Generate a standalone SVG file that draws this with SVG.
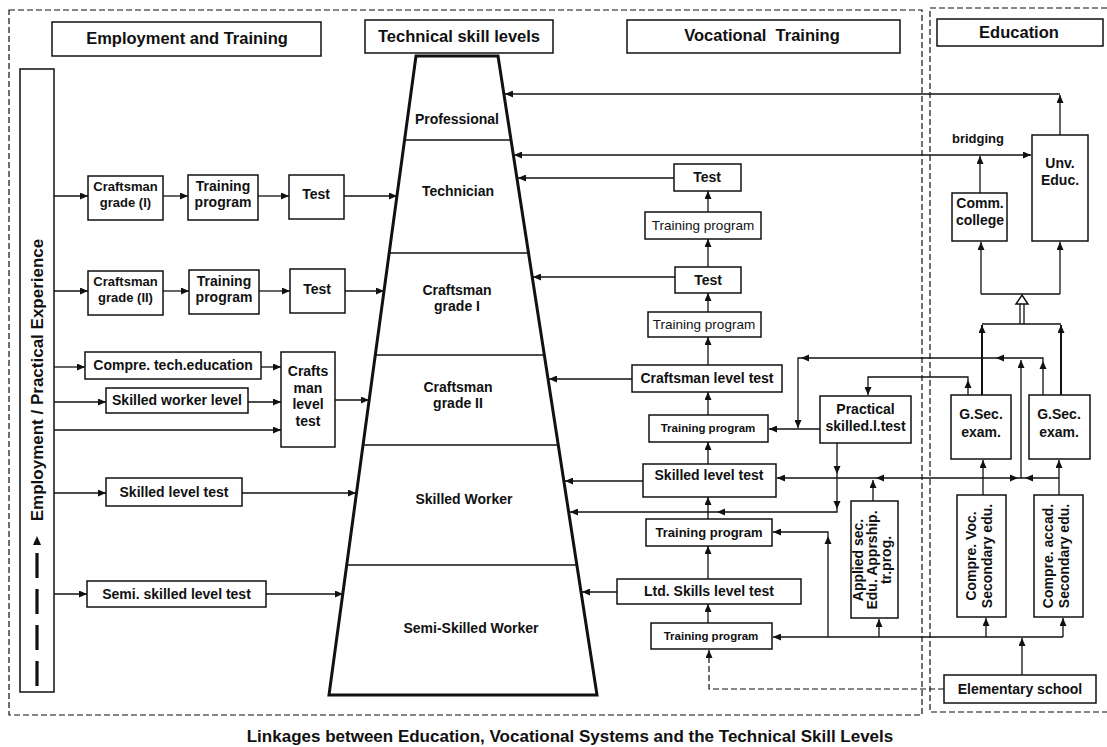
<svg xmlns="http://www.w3.org/2000/svg" xmlns:xlink="http://www.w3.org/1999/xlink" width="1107" height="747" viewBox="0 0 1107 747">
<style>
.bx{fill:#fff;stroke:#111;stroke-width:1.5}
.t{font-family:"Liberation Sans",Arial,sans-serif;font-weight:bold;font-size:14px;text-anchor:middle;fill:#111}
.h{font-size:16.5px}
.s{font-size:11.5px}
.n{font-weight:normal}
.c{stroke:#111;stroke-width:1.3;fill:none}
.k{stroke:#111;stroke-width:2;fill:none}
.d{stroke:#111;stroke-width:1.2;fill:none;stroke-dasharray:6 3}
.tz{fill:none;stroke:#111;stroke-width:3;stroke-linejoin:miter}
.dv{stroke:#111;stroke-width:1.6}
</style>
<defs>
<marker id="m" viewBox="0 0 8 7" refX="8" refY="3.5" markerWidth="8" markerHeight="7" markerUnits="userSpaceOnUse" orient="auto-start-reverse"><path d="M0,0 L8,3.5 L0,7 Z" fill="#111"/></marker>
<path id="ah" d="M0,0 L-8,-3.5 L-8,3.5 Z" fill="#111"/>
</defs>
<rect width="1107" height="747" fill="#fff"/>

<g id="frames">
<path class="d" d="M9,10 H922 V715 H9 Z"/>
<path class="d" d="M1107,8 H930 V712 H1107"/>
</g>

<g id="headers">
<rect class="bx" x="52" y="22" width="269" height="34"/>
<text class="t h" x="187" y="44">Employment and Training</text>
<rect class="bx" x="365" y="20" width="188" height="33"/>
<text class="t h" x="459" y="42">Technical skill levels</text>
<rect class="bx" x="627" y="20" width="273" height="33"/>
<text class="t h" x="762" y="41" xml:space="preserve">Vocational  Training</text>
<rect class="bx" x="937" y="19" width="166" height="27"/>
<text class="t h" x="1019" y="38">Education</text>
</g>

<g id="skill-levels">
<path class="tz" d="M416,56 L498,56 L597,695 L329,695 Z"/>
<line class="dv" x1="405" y1="140" x2="511" y2="140"/>
<line class="dv" x1="389" y1="253" x2="528" y2="253"/>
<line class="dv" x1="375" y1="355" x2="544" y2="355"/>
<line class="dv" x1="363" y1="445" x2="558" y2="445"/>
<line class="dv" x1="347" y1="565" x2="577" y2="565"/>
<text class="t" x="457" y="124">Professional</text>
<text class="t" x="458" y="196">Technician</text>
<text class="t" x="457" y="295">Craftsman</text>
<text class="t" x="457" y="311">grade I</text>
<text class="t" x="458" y="392">Craftsman</text>
<text class="t" x="458" y="408">grade II</text>
<text class="t" x="464" y="504">Skilled Worker</text>
<text class="t" x="471" y="633">Semi-Skilled Worker</text>
</g>

<g id="employment-experience">
<rect class="bx" x="20" y="69" width="34" height="623"/>
<text class="t" style="font-size:17px" transform="translate(43,380) rotate(-90)">Employment / Practical Experience</text>
<path d="M37,536 L33,545 L41,545 Z" fill="#111"/>
<path d="M37,553 V688" stroke="#111" stroke-width="3.2" stroke-dasharray="25 11" fill="none"/>
</g>

<g id="emp-craftsman-I"><rect class="bx" x="88" y="176" width="75" height="44"/><text class="t" style="font-size:13px" x="125.5" y="191">Craftsman</text><text class="t" style="font-size:13px" x="125.5" y="207">grade (I)</text></g>
<g id="emp-training-1"><rect class="bx" x="188" y="175" width="70" height="45"/><text class="t" x="223" y="191">Training</text><text class="t" x="223" y="207">program</text></g>
<g id="emp-test-1"><rect class="bx" x="289" y="175" width="55" height="44"/><text class="t" x="316" y="199">Test</text></g>

<g id="emp-craftsman-II"><rect class="bx" x="88" y="271" width="75" height="44"/><text class="t" style="font-size:13px" x="125.5" y="286">Craftsman</text><text class="t" style="font-size:13px" x="125.5" y="302">grade (II)</text></g>
<g id="emp-training-2"><rect class="bx" x="189" y="270" width="70" height="44"/><text class="t" x="224" y="286">Training</text><text class="t" x="224" y="302">program</text></g>
<g id="emp-test-2"><rect class="bx" x="290" y="269" width="55" height="44"/><text class="t" x="317" y="294">Test</text></g>

<g id="emp-compre-tech"><rect class="bx" x="85" y="352" width="176" height="27"/><text class="t" x="173" y="370">Compre. tech.education</text></g>
<g id="emp-skilled-worker"><rect class="bx" x="106" y="388" width="142" height="25"/><text class="t" x="177" y="405">Skilled worker level</text></g>
<g id="emp-craftsman-test"><rect class="bx" x="281" y="352" width="54" height="95"/><text class="t" x="308" y="376">Crafts</text><text class="t" x="308" y="393">man</text><text class="t" x="308" y="409">level</text><text class="t" x="308" y="426">test</text></g>
<g id="emp-skilled-test"><rect class="bx" x="106" y="478" width="136" height="28"/><text class="t" x="174" y="497">Skilled level test</text></g>
<g id="emp-semi-test"><rect class="bx" x="87" y="581" width="179" height="26"/><text class="t" x="176.5" y="599">Semi. skilled level test</text></g>

<g id="voc-test-1"><rect class="bx" x="674" y="164" width="67" height="27"/><text class="t" x="707" y="182">Test</text></g>
<g id="voc-training-1"><rect class="bx" x="645" y="212" width="116" height="27"/><text class="t n" style="font-size:13.5px" x="703" y="230">Training program</text></g>
<g id="voc-test-2"><rect class="bx" x="675" y="267" width="66" height="26"/><text class="t" x="708" y="285">Test</text></g>
<g id="voc-training-2"><rect class="bx" x="648" y="312" width="113" height="25"/><text class="t n" style="font-size:13.5px" x="704" y="329">Training program</text></g>
<g id="voc-craftsman-test"><rect class="bx" x="632" y="365" width="150" height="27"/><text class="t" x="707" y="383">Craftsman level test</text></g>
<g id="voc-training-3"><rect class="bx" x="649" y="415" width="119" height="27"/><text class="t s" x="708" y="432">Training program</text></g>
<g id="voc-skilled-test"><rect class="bx" x="643" y="464" width="133" height="33"/><text class="t" x="709" y="480">Skilled level test</text></g>
<g id="voc-training-4"><rect class="bx" x="646" y="519" width="126" height="27"/><text class="t" style="font-size:13px" x="709" y="537">Training program</text></g>
<g id="voc-ltd-test"><rect class="bx" x="617" y="579" width="184" height="25"/><text class="t" x="709" y="596">Ltd. Skills level test</text></g>
<g id="voc-training-5"><rect class="bx" x="651" y="623" width="121" height="26"/><text class="t s" x="711" y="640">Training program</text></g>
<g id="voc-practical"><rect class="bx" x="820" y="396" width="91" height="47"/><text class="t" x="865.5" y="414">Practical</text><text class="t" x="865.5" y="431">skilled.l.test</text></g>
<g id="voc-applied"><rect class="bx" x="851" y="501" width="47" height="117"/><text class="t" transform="translate(863,560) rotate(-90)">Applied sec.</text><text class="t" transform="translate(877,560) rotate(-90)">Edu. Apprship.</text><text class="t" transform="translate(891,560) rotate(-90)">tr.prog.</text></g>

<g id="edu-comm-college"><rect class="bx" x="952" y="193" width="55" height="48"/><text class="t" x="980" y="208">Comm.</text><text class="t" x="980" y="225">college</text></g>
<g id="edu-unv"><rect class="bx" x="1032" y="135" width="56" height="106"/><text class="t" x="1060" y="168">Unv.</text><text class="t" x="1060" y="185">Educ.</text></g>
<g id="edu-gsec-1"><rect class="bx" x="951" y="395" width="60" height="64"/><text class="t" x="981" y="419">G.Sec.</text><text class="t" x="981" y="437">exam.</text></g>
<g id="edu-gsec-2"><rect class="bx" x="1029" y="395" width="61" height="64"/><text class="t" x="1059" y="419">G.Sec.</text><text class="t" x="1059" y="437">exam.</text></g>
<g id="edu-compre-voc"><rect class="bx" x="957" y="495" width="49" height="122"/><text class="t" transform="translate(976,556) rotate(-90)">Compre. Voc.</text><text class="t" transform="translate(992,556) rotate(-90)">Secondary edu.</text></g>
<g id="edu-compre-accad"><rect class="bx" x="1034" y="495" width="49" height="122"/><text class="t" transform="translate(1053,556) rotate(-90)">Compre. accad.</text><text class="t" transform="translate(1069,556) rotate(-90)">Secondary edu.</text></g>
<g id="edu-elementary"><rect class="bx" x="944" y="675" width="152" height="28"/><text class="t" x="1020" y="694">Elementary school</text></g>
<text class="t" style="font-size:13px" x="978" y="143">bridging</text>

<g id="connectors">
<!-- employment -->
<path class="c" marker-end="url(#m)" d="M54,196 H88"/>
<path class="c" marker-end="url(#m)" d="M163,196 H188"/>
<path class="c" marker-end="url(#m)" d="M258,196 H289"/>
<path class="c" marker-end="url(#m)" d="M344,196 H397"/>
<path class="c" marker-end="url(#m)" d="M54,291 H88"/>
<path class="c" marker-end="url(#m)" d="M163,291 H189"/>
<path class="c" marker-end="url(#m)" d="M259,291 H290"/>
<path class="c" marker-end="url(#m)" d="M345,291 H384"/>
<path class="c" marker-end="url(#m)" d="M54,367 H85"/>
<path class="c" marker-end="url(#m)" d="M261,367 H281"/>
<path class="c" marker-end="url(#m)" d="M54,402 H106"/>
<path class="c" marker-end="url(#m)" d="M248,402 H281"/>
<path class="c" marker-end="url(#m)" d="M54,430 H281"/>
<path class="c" marker-end="url(#m)" d="M335,400 H369"/>
<path class="c" marker-end="url(#m)" d="M54,493 H106"/>
<path class="c" marker-end="url(#m)" d="M242,493 H356"/>
<path class="c" marker-end="url(#m)" d="M54,594 H87"/>
<path class="c" marker-end="url(#m)" d="M266,594 H343"/>
<!-- top links -->
<path class="c" marker-end="url(#m)" d="M1060,135 V95"/>
<path class="c" marker-end="url(#m)" d="M1060,94 H505"/>
<path class="c" marker-start="url(#m)" marker-end="url(#m)" d="M1031,155 H514"/>
<path class="c" marker-end="url(#m)" d="M980,193 V156"/>
<!-- vocational to skill levels -->
<path class="c" marker-end="url(#m)" d="M674,178 H518"/>
<path class="c" marker-end="url(#m)" d="M675,277 H533"/>
<path class="c" marker-end="url(#m)" d="M632,379 H549"/>
<path class="c" marker-end="url(#m)" d="M643,481 H565"/>
<path class="c" marker-end="url(#m)" d="M617,592 H582"/>
<!-- vocational chain -->
<path class="c" marker-end="url(#m)" d="M708,212 V191"/>
<path class="c" marker-end="url(#m)" d="M708,267 V239"/>
<path class="c" marker-end="url(#m)" d="M708,312 V293"/>
<path class="c" marker-end="url(#m)" d="M708,365 V337"/>
<path class="c" marker-end="url(#m)" d="M708,415 V392"/>
<path class="c" marker-end="url(#m)" d="M708,464 V442"/>
<path class="c" marker-end="url(#m)" d="M708,519 V497"/>
<path class="c" marker-end="url(#m)" d="M708,579 V546"/>
<path class="c" marker-end="url(#m)" d="M708,623 V604"/>
<path class="d" marker-end="url(#m)" d="M944,689 H709 V650"/>
<!-- practical -->
<path class="c" marker-end="url(#m)" d="M820,429 H769"/>
<path class="c" marker-end="url(#m)" d="M837,443 V512 H570"/>
<use xlink:href="#ah" transform="translate(837,474) rotate(90)"/>
<use xlink:href="#ah" transform="translate(837,509) rotate(90)"/>
<use xlink:href="#ah" transform="translate(717,512) rotate(180)"/>
<path class="c" marker-end="url(#m)" d="M968,395 V377 H868 V395"/>
<use xlink:href="#ah" transform="translate(968,380) rotate(-90)"/>
<path class="c" marker-end="url(#m)" d="M1043,395 V358 H798 V428"/>
<use xlink:href="#ah" transform="translate(1043,361) rotate(-90)"/>
<use xlink:href="#ah" transform="translate(996,358) rotate(180)"/>
<use xlink:href="#ah" transform="translate(801,358) rotate(180)"/>
<path class="c" marker-end="url(#m)" d="M1021,478 V360"/>
<path class="c" marker-end="url(#m)" d="M1059,478 H777"/>
<use xlink:href="#ah" transform="translate(876,478) rotate(180)"/>
<use xlink:href="#ah" transform="translate(1018,478)"/>
<use xlink:href="#ah" transform="translate(1025,478) rotate(180)"/>
<path class="c" marker-end="url(#m)" d="M873,501 V480"/>
<!-- elementary distribution -->
<path class="c" marker-end="url(#m)" d="M1063,637 H773"/>
<path class="c" marker-end="url(#m)" d="M828,637 V532 H773"/>
<use xlink:href="#ah" transform="translate(828,536) rotate(-90)"/>
<path class="c" marker-end="url(#m)" d="M879,637 V619"/>
<path class="c" marker-end="url(#m)" d="M986,637 V618"/>
<path class="c" marker-end="url(#m)" d="M1063,637 V618"/>
<path class="c" marker-end="url(#m)" d="M1022,675 V638"/>
<path class="c" marker-end="url(#m)" d="M983,495 V460"/>
<path class="c" marker-end="url(#m)" d="M1059,495 V460"/>
<!-- G.Sec to higher education -->
<path class="k" marker-end="url(#m)" d="M982,395 V325"/>
<path class="k" marker-end="url(#m)" d="M1061,395 V325"/>
<path class="c" d="M982,324 H1061"/>
<path class="c" d="M1020,324 V303 M1024,324 V303"/>
<path d="M1016,304 L1022,295 L1028,304 Z" fill="#fff" stroke="#111" stroke-width="1.5"/>
<path class="c" d="M981,294 H1060"/>
<path class="c" marker-end="url(#m)" d="M981,294 V242"/>
<path class="c" marker-end="url(#m)" d="M1060,294 V242"/>
</g>

<text class="t" style="font-size:17px" x="570" y="742">Linkages between Education, Vocational Systems and the Technical Skill Levels</text>
</svg>
